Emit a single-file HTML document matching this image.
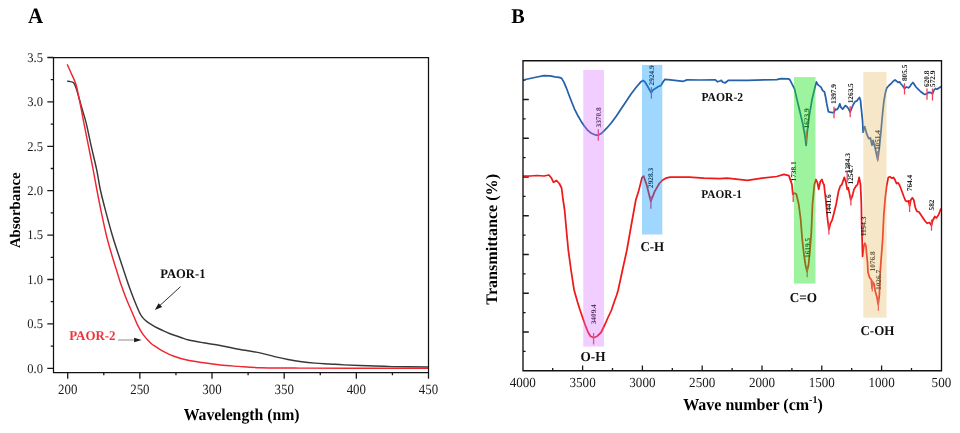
<!DOCTYPE html>
<html><head><meta charset="utf-8"><style>
html,body{margin:0;padding:0;background:#fff;}
svg{display:block;font-family:"Liberation Serif", serif;text-rendering:geometricPrecision;will-change:transform;}
</style></head><body>
<svg width="960" height="433" viewBox="0 0 960 433">
<rect width="960" height="433" fill="#fff"/>
<text transform="translate(28,22.9) scale(1,1.04)" font-size="21" font-weight="bold" fill="#000">A</text>
<path d="M47.3,368.3 H53.5 M50.7,346.1 H53.5 M47.3,323.9 H53.5 M50.7,301.7 H53.5 M47.3,279.5 H53.5 M50.7,257.3 H53.5 M47.3,235.1 H53.5 M50.7,212.9 H53.5 M47.3,190.7 H53.5 M50.7,168.5 H53.5 M47.3,146.3 H53.5 M50.7,124.1 H53.5 M47.3,101.9 H53.5 M50.7,79.7 H53.5 M47.3,57.5 H53.5 M67.7,372.5 V378.7 M139.86,372.5 V378.7 M212.02,372.5 V378.7 M284.18,372.5 V378.7 M356.34,372.5 V378.7 M428.5,372.5 V378.7 M103.78,372.5 V375.3 M175.94,372.5 V375.3 M248.1,372.5 V375.3 M320.26,372.5 V375.3 M392.42,372.5 V375.3" stroke="#1a1a1a" stroke-width="1.3" fill="none"/>
<text transform="translate(43,372.6) scale(1,1.06)" font-size="12.6" text-anchor="end" fill="#1a1a1a">0.0</text>
<text transform="translate(43,328.2) scale(1,1.06)" font-size="12.6" text-anchor="end" fill="#1a1a1a">0.5</text>
<text transform="translate(43,283.8) scale(1,1.06)" font-size="12.6" text-anchor="end" fill="#1a1a1a">1.0</text>
<text transform="translate(43,239.4) scale(1,1.06)" font-size="12.6" text-anchor="end" fill="#1a1a1a">1.5</text>
<text transform="translate(43,195) scale(1,1.06)" font-size="12.6" text-anchor="end" fill="#1a1a1a">2.0</text>
<text transform="translate(43,150.6) scale(1,1.06)" font-size="12.6" text-anchor="end" fill="#1a1a1a">2.5</text>
<text transform="translate(43,106.2) scale(1,1.06)" font-size="12.6" text-anchor="end" fill="#1a1a1a">3.0</text>
<text transform="translate(43,61.8) scale(1,1.06)" font-size="12.6" text-anchor="end" fill="#1a1a1a">3.5</text>
<text transform="translate(67.7,393.6) scale(1,1.1)" font-size="12.9" text-anchor="middle" fill="#1a1a1a">200</text>
<text transform="translate(139.86,393.6) scale(1,1.1)" font-size="12.9" text-anchor="middle" fill="#1a1a1a">250</text>
<text transform="translate(212.02,393.6) scale(1,1.1)" font-size="12.9" text-anchor="middle" fill="#1a1a1a">300</text>
<text transform="translate(284.18,393.6) scale(1,1.1)" font-size="12.9" text-anchor="middle" fill="#1a1a1a">350</text>
<text transform="translate(356.34,393.6) scale(1,1.1)" font-size="12.9" text-anchor="middle" fill="#1a1a1a">400</text>
<text transform="translate(428.5,393.6) scale(1,1.1)" font-size="12.9" text-anchor="middle" fill="#1a1a1a">450</text>
<text transform="translate(241.6,419.6) scale(1,1.06)" font-size="15.75" font-weight="bold" text-anchor="middle" fill="#000">Wavelength (nm)</text>
<text transform="translate(19.9,210.3) rotate(-90)" font-size="14.8" font-weight="bold" text-anchor="middle" fill="#000">Absorbance</text>
<path d="M67.2,81.3 C67.73,81.35 69.42,81.42 70.4,81.6 C71.38,81.78 72.42,81.98 73.1,82.4 C73.78,82.82 73.92,82.9 74.5,84.1 C75.08,85.3 75.78,87.07 76.6,89.6 C77.42,92.13 78.48,96.07 79.4,99.3 C80.32,102.53 80.97,105.03 82.1,109 C83.23,112.97 84.68,116.9 86.2,123.1 C87.72,129.3 89.47,138.5 91.2,146.2 C92.93,153.9 95.07,162 96.6,169.3 C98.13,176.6 98.8,182.7 100.4,190 C102,197.3 104.17,205.4 106.2,213.1 C108.23,220.8 110.3,228.5 112.6,236.2 C114.9,243.9 118.28,254 120,259.3 C121.72,264.6 121.48,263.75 122.9,268 C124.32,272.25 126.65,279.55 128.5,284.8 C130.35,290.05 132.17,294.88 134,299.5 C135.83,304.12 138.12,309.57 139.5,312.5 C140.88,315.43 141.07,315.57 142.3,317.1 C143.53,318.63 144.9,320.17 146.9,321.7 C148.9,323.23 151.83,324.92 154.3,326.3 C156.77,327.68 159.08,328.77 161.7,330 C164.32,331.23 166.78,332.45 170,333.7 C173.22,334.95 177.88,336.45 181,337.5 C184.12,338.55 184.95,339.12 188.7,340 C192.45,340.88 198.25,341.88 203.5,342.8 C208.75,343.72 214.35,344.43 220.2,345.5 C226.05,346.57 231.97,347.97 238.6,349.2 C245.23,350.43 254.02,351.67 260,352.9 C265.98,354.13 269.83,355.5 274.5,356.6 C279.17,357.7 283.48,358.65 288,359.5 C292.52,360.35 297.08,361.1 301.6,361.7 C306.12,362.3 310.37,362.72 315.1,363.1 C319.83,363.48 325.18,363.7 330,364 C334.82,364.3 337.68,364.6 344,364.9 C350.32,365.2 359.92,365.52 367.9,365.8 C375.88,366.08 381.88,366.4 391.9,366.6 C401.92,366.8 421.98,366.93 428,367" stroke="#383838" stroke-width="1.45" fill="none" stroke-linejoin="round"/>
<path d="M67.2,64.4 C67.85,65.83 69.88,70.3 71.1,73 C72.32,75.7 73.58,78.3 74.5,80.6 C75.42,82.9 75.9,84.15 76.6,86.8 C77.3,89.45 77.88,92.57 78.7,96.5 C79.52,100.43 80.63,105.97 81.5,110.4 C82.37,114.83 82.73,117.13 83.9,123.1 C85.07,129.07 86.97,138.5 88.5,146.2 C90.03,153.9 91.7,162 93.1,169.3 C94.5,176.6 95.5,182.7 96.9,190 C98.3,197.3 99.88,205.4 101.5,213.1 C103.12,220.8 104.67,228.5 106.6,236.2 C108.53,243.9 111.45,253.67 113.1,259.3 C114.75,264.93 115.17,265.75 116.5,270 C117.83,274.25 119.42,279.88 121.1,284.8 C122.78,289.72 124.75,294.88 126.6,299.5 C128.45,304.12 130.35,308.18 132.2,312.5 C134.05,316.82 135.87,321.72 137.7,325.4 C139.53,329.08 141.05,331.68 143.2,334.6 C145.35,337.52 148.47,340.87 150.6,342.9 C152.73,344.93 153.97,345.43 156,346.8 C158.03,348.17 159.82,349.52 162.8,351.1 C165.78,352.68 169.88,354.82 173.9,356.3 C177.92,357.78 182.27,358.97 186.9,360 C191.53,361.03 196.15,361.67 201.7,362.5 C207.25,363.33 214.05,364.35 220.2,365 C226.35,365.65 231.97,365.95 238.6,366.4 C245.23,366.85 249.77,367.42 260,367.7 C270.23,367.98 285,368.02 300,368.1 C315,368.18 328.67,368.18 350,368.2 C371.33,368.22 415,368.2 428,368.2" stroke="#f02530" stroke-width="1.45" fill="none" stroke-linejoin="round"/>
<path d="M53.5,57.5 H428.5 V372.5 H53.5 Z" fill="none" stroke="#111" stroke-width="1.25"/>
<text transform="translate(160.2,278.2) scale(1,1.04)" font-size="12.6" font-weight="bold" fill="#111">PAOR-1</text>
<text transform="translate(69.2,340.2) scale(1,1.04)" font-size="12.9" font-weight="bold" fill="#f0333a">PAOR-2</text>
<path d="M180.5,286.7 L159.61,305.72" stroke="#1a1a1a" stroke-width="0.9"/><path d="M154.8,310.1 L158.6,303.13 L162.1,306.97 Z" fill="#1a1a1a"/>
<path d="M118.1,340 L135.1,340" stroke="#8a8a8a" stroke-width="1.0"/><path d="M141.6,340 L134.1,342.2 L134.1,337.8 Z" fill="#1a1a1a"/>
<text transform="translate(511.2,22.9) scale(1,1.04)" font-size="20.2" font-weight="bold" fill="#000">B</text>
<path d="M523,99.5 H528.8 M523,138.25 H528.8 M523,177 H528.8 M523,215.75 H528.8 M523,254.5 H528.8 M523,293.25 H528.8 M523,332 H528.8 M523,80.12 H525.6 M523,118.88 H525.6 M523,157.62 H525.6 M523,196.38 H525.6 M523,235.12 H525.6 M523,273.88 H525.6 M523,312.62 H525.6 M523,351.38 H525.6 M582.6,370.75 V365.55 M642.4,370.75 V365.55 M702.2,370.75 V365.55 M762,370.75 V365.55 M821.8,370.75 V365.55 M881.6,370.75 V365.55 M552.7,370.75 V367.95 M612.5,370.75 V367.95 M672.3,370.75 V367.95 M732.1,370.75 V367.95 M791.9,370.75 V367.95 M851.7,370.75 V367.95 M911.5,370.75 V367.95" stroke="#1a1a1a" stroke-width="1.3" fill="none"/>
<text transform="translate(522.8,387.4) scale(1,1.06)" font-size="13.1" text-anchor="middle" fill="#1a1a1a">4000</text>
<text transform="translate(582.6,387.4) scale(1,1.06)" font-size="13.1" text-anchor="middle" fill="#1a1a1a">3500</text>
<text transform="translate(642.4,387.4) scale(1,1.06)" font-size="13.1" text-anchor="middle" fill="#1a1a1a">3000</text>
<text transform="translate(702.2,387.4) scale(1,1.06)" font-size="13.1" text-anchor="middle" fill="#1a1a1a">2500</text>
<text transform="translate(762,387.4) scale(1,1.06)" font-size="13.1" text-anchor="middle" fill="#1a1a1a">2000</text>
<text transform="translate(821.8,387.4) scale(1,1.06)" font-size="13.1" text-anchor="middle" fill="#1a1a1a">1500</text>
<text transform="translate(881.6,387.4) scale(1,1.06)" font-size="13.1" text-anchor="middle" fill="#1a1a1a">1000</text>
<text transform="translate(941.4,387.4) scale(1,1.06)" font-size="13.1" text-anchor="middle" fill="#1a1a1a">500</text>
<text transform="translate(683.2,410.3) scale(1,1.04)" font-size="16" font-weight="bold" fill="#000">Wave number (cm<tspan font-size="10" dy="-6.6">-1</tspan><tspan dy="6.6">)</tspan></text>
<text transform="translate(496.6,239.3) rotate(-90)" font-size="16.1" font-weight="bold" text-anchor="middle" fill="#000">Transmittance (%)</text>
<path d="M523,80 L530,78.5 L537,77 L544,75.6 L550,75.8 L555,76.8 L559,77.3 L561.5,78.1 L563.9,82.1 L566.3,87.8 L568.7,94.2 L571.2,100.7 L574.4,108.8 L577.6,115.2 L580.9,120.9 L584.1,125.7 L587.3,129.8 L591.4,133.3 L595.4,135 L598.6,135 L601.9,133 L606.7,128.2 L611.6,122.5 L616.4,116 L621.2,108.8 L626.1,101.5 L630.9,94.2 L635.8,87.8 L640.6,82.1 L643.1,80.5 L645,82 L648,87 L651.2,92.8 L653,90 L655.3,88.6 L658,86.8 L661,85.4 L663,82 L664.8,79.4 L668,79.7 L674.6,80.3 L683.3,81.3 L687,79.9 L700,80 L715.4,79.9 L717.6,81.8 L719.8,81 L721.3,80.3 L722.7,82.2 L725.3,82.8 L728.5,80.3 L747.5,80.3 L776.7,79.6 L781,78.6 L788.3,78.9 L789.8,79.6 L792.6,85.2 L794.5,88.9 L797.3,100.9 L800,112 L802.8,124 L805,136.1 L806.1,145.4 L807.4,130.6 L809.3,115.7 L812.1,99.1 L814.8,88 L816.4,81.9 L817.5,84.2 L818.7,85.4 L820.4,86.6 L821.6,88.3 L822.7,90.6 L824.4,91.8 L825.6,97 L826.8,103.9 L828.3,111.4 L829.6,112.2 L832.5,112.6 L834,112.5 L835.4,109.1 L836.8,109.7 L838.3,107.9 L839.8,103.9 L841,107.4 L842.6,109.1 L844.1,107.4 L845.2,105.6 L847,106.8 L848.7,109.1 L850.2,112 L851.6,108.5 L853.3,104.5 L855.1,101.6 L856.8,101 L858,99.3 L859.5,97.5 L860.5,100.4 L861.4,109.7 L862.6,121.2 L863.1,132.2 L864.7,126.6 L866.7,133.9 L868.8,138.7 L870.4,137.9 L872,145.2 L873.1,140.3 L875.2,148.4 L877.7,159.8 L879.3,148.4 L880.9,132.2 L882.5,114.4 L883.8,102 L885.3,93 L886.8,87.8 L889,85.5 L891.3,83.3 L893.5,81 L895,80 L896.5,81 L898,82.5 L899.5,81.8 L901,84 L902.5,85.5 L904,87.8 L904.8,88.5 L906.3,87 L908.5,87.8 L910,86.3 L911.5,84 L913,82.5 L914.5,84.8 L916,87 L918.3,89.3 L920.5,91.5 L923.5,93.8 L925,94.5 L926.8,93.8 L928.8,92.3 L931,92.7 L932.5,93.8 L934,90 L935.5,88.5 L937,89.3 L939.3,87.8 L941,86.3" stroke="#2560a8" stroke-width="1.75" fill="none" stroke-linejoin="round"/>
<path d="M523,176.1 L530,176 L537,175.5 L544,176 L548.9,175 L551.2,177.7 L553.5,182.3 L556.5,180.5 L559.3,183.5 L561.6,188 L563.1,200 L564.6,210 L566.4,230 L568.3,250 L571,270 L574.1,290 L577.5,302 L580,310 L585.2,325 L588.2,332.5 L590.5,336.2 L593.5,337.7 L597.2,336.2 L601,332.5 L604.7,325 L608,317.5 L611.5,310 L614,302.5 L616.7,295 L618.2,290 L622.5,270 L626.9,250 L631.3,225 L635.8,200 L638.5,191.6 L642,177.7 L643.6,176.1 L646.6,184.6 L650.8,201.5 L654.6,191.6 L659.3,183.5 L662.7,180 L665.8,178.2 L670.2,177.1 L689.2,177.1 L703.8,178.2 L719.8,178.7 L727.1,178.2 L747.5,180.4 L762.1,178.2 L776.7,176.5 L784,174.3 L788.9,175.6 L791.9,184.4 L792.8,194.2 L794.8,193.2 L796.4,194.2 L798.7,204 L800.7,219.7 L802.3,240 L804,255 L805.5,265 L807,271.5 L808.5,265 L810,250 L811.3,233 L812.5,204 L814.4,184.4 L816,179.5 L817.4,182.5 L818.7,189.3 L820.3,181.5 L821.9,179.5 L823.2,183.4 L824,184.6 L825.7,199.1 L827.3,216.9 L828.9,229.5 L830.5,223.4 L832.1,220.2 L833.8,213.7 L836.2,204 L838.6,191 L840.2,186.2 L841.8,184.6 L844.3,177.3 L845.9,182.1 L847.2,189.4 L848.3,187.8 L849.6,194.3 L850.7,199.9 L852.4,195.9 L854,189.4 L855.9,186.2 L857.5,184.6 L859.2,177.3 L860.5,184.6 L861.3,202.4 L861.7,225 L862.2,241.8 L862.6,256.4 L863.6,247.4 L864.8,243.2 L866,246 L866.5,252.9 L867.5,262 L868,272.3 L869.7,277.9 L871.3,279.5 L872.1,288.4 L872.9,282 L874.2,284.4 L875.3,291.6 L877,297.3 L878.2,304.5 L879.4,294.8 L880,275 L881,261 L882,248 L882.6,240 L883.8,215 L885.3,197 L886.8,185 L888.3,177.5 L889.8,176.8 L892,178.3 L893.5,177.5 L895,179.8 L896.5,183.5 L898,182.8 L899.5,185 L901.8,191 L904,197 L905.5,200.8 L907,201.5 L908.5,200.8 L909.6,206 L910.8,200 L912.3,197.8 L913.8,200 L915.3,207.5 L916.8,211.3 L919,212 L922,216.5 L925,221 L927.3,223.3 L929.5,222.5 L931.5,225.5 L932.5,221 L934.8,216.5 L936.3,218 L938.5,215 L941,208.5" stroke="#f01818" stroke-width="1.75" fill="none" stroke-linejoin="round"/>
<path d="M598.3,129.3 V140.7 M651.4,87.3 V98.7 M806.4,130.5 V141.7 M834,106.8 V118.3 M850.2,106.2 V117.2 M877.7,150.9 V161.4 M904.5,83.3 V94.5 M927,88.5 V99.8 M932.5,88.5 V100.5 M593.6,333.1 V344.5 M650.9,196 V208.8 M793.2,191.6 V202 M807.2,267.4 V277.3 M828.9,223.6 V234.6 M847.2,171.5 V182.5 M850.9,195 V205.5 M863.1,225 V236 M872.3,280.3 V291.6 M878.4,298.3 V310.8 M909.6,200 V212 M931.5,219.5 V230.8" stroke="#f0405a" stroke-width="1.3" fill="none"/>
<text transform="translate(600.7,127.5) rotate(-90)" font-size="7.3" font-weight="bold" fill="#1a1a1a">3370.8</text>
<text transform="translate(653.8,85.4) rotate(-90)" font-size="7.3" font-weight="bold" fill="#1a1a1a">2924.9</text>
<text transform="translate(808.8,128.5) rotate(-90)" font-size="7.3" font-weight="bold" fill="#1a1a1a">1623.9</text>
<text transform="translate(836.4,104.1) rotate(-90)" font-size="7.3" font-weight="bold" fill="#1a1a1a">1397.9</text>
<text transform="translate(852.6,103.3) rotate(-90)" font-size="7.3" font-weight="bold" fill="#1a1a1a">1263.5</text>
<text transform="translate(880.1,150.1) rotate(-90)" font-size="7.3" font-weight="bold" fill="#1a1a1a">1051.4</text>
<text transform="translate(906.9,81.1) rotate(-90)" font-size="7.3" font-weight="bold" fill="#1a1a1a">805.5</text>
<text transform="translate(929.4,87) rotate(-90)" font-size="7.3" font-weight="bold" fill="#1a1a1a">620.8</text>
<text transform="translate(934.9,87) rotate(-90)" font-size="7.3" font-weight="bold" fill="#1a1a1a">572.9</text>
<text transform="translate(596,324.3) rotate(-90)" font-size="7.3" font-weight="bold" fill="#1a1a1a">3409.4</text>
<text transform="translate(653.3,188) rotate(-90)" font-size="7.3" font-weight="bold" fill="#1a1a1a">2928.3</text>
<text transform="translate(795.6,181.5) rotate(-90)" font-size="7.3" font-weight="bold" fill="#1a1a1a">1738.1</text>
<text transform="translate(809.6,258) rotate(-90)" font-size="7.3" font-weight="bold" fill="#1a1a1a">1619.5</text>
<text transform="translate(831.3,214.5) rotate(-90)" font-size="7.3" font-weight="bold" fill="#1a1a1a">1441.6</text>
<text transform="translate(849.6,173.2) rotate(-90)" font-size="7.3" font-weight="bold" fill="#1a1a1a">1284.3</text>
<text transform="translate(853.3,184.5) rotate(-90)" font-size="7.3" font-weight="bold" fill="#1a1a1a">1254.7</text>
<text transform="translate(865.5,236.3) rotate(-90)" font-size="7.3" font-weight="bold" fill="#1a1a1a">1154.3</text>
<text transform="translate(874.7,271.5) rotate(-90)" font-size="7.3" font-weight="bold" fill="#1a1a1a">1076.8</text>
<text transform="translate(880.8,290) rotate(-90)" font-size="7.3" font-weight="bold" fill="#1a1a1a">1026.7</text>
<text transform="translate(912,191.2) rotate(-90)" font-size="7.3" font-weight="bold" fill="#1a1a1a">764.4</text>
<text transform="translate(933.9,210.5) rotate(-90)" font-size="7.3" font-weight="bold" fill="#1a1a1a">582</text>
<rect x="583.3" y="70" width="20.7" height="276.6" fill="rgb(216,104,255)" fill-opacity="0.33"/>
<rect x="642" y="64.9" width="20.3" height="169.6" fill="rgb(5,150,255)" fill-opacity="0.38"/>
<rect x="794" y="77.1" width="21.5" height="206.5" fill="rgb(24,226,24)" fill-opacity="0.42"/>
<rect x="863.3" y="72" width="23.3" height="245.7" fill="rgb(229,186,98)" fill-opacity="0.35"/>
<path d="M523,60.75 H941.5 V370.75 H523 Z" fill="none" stroke="#111" stroke-width="1.35"/>
<text transform="translate(701.4,100.7) scale(1,1.04)" font-size="11.6" font-weight="bold" fill="#111">PAOR-2</text>
<text transform="translate(701.3,197.9) scale(1,1.04)" font-size="11.3" font-weight="bold" fill="#111">PAOR-1</text>
<text transform="translate(593,361.1) scale(1,1.04)" font-size="13.2" font-weight="bold" text-anchor="middle" fill="#111">O-H</text>
<text transform="translate(652.3,250.7) scale(1,1.04)" font-size="13" font-weight="bold" text-anchor="middle" fill="#111">C-H</text>
<text transform="translate(803.3,301.6) scale(1,1.04)" font-size="13.2" font-weight="bold" text-anchor="middle" fill="#111">C=O</text>
<text transform="translate(877.4,335) scale(1,1.04)" font-size="13" font-weight="bold" text-anchor="middle" fill="#111">C-OH</text>
</svg>
</body></html>
